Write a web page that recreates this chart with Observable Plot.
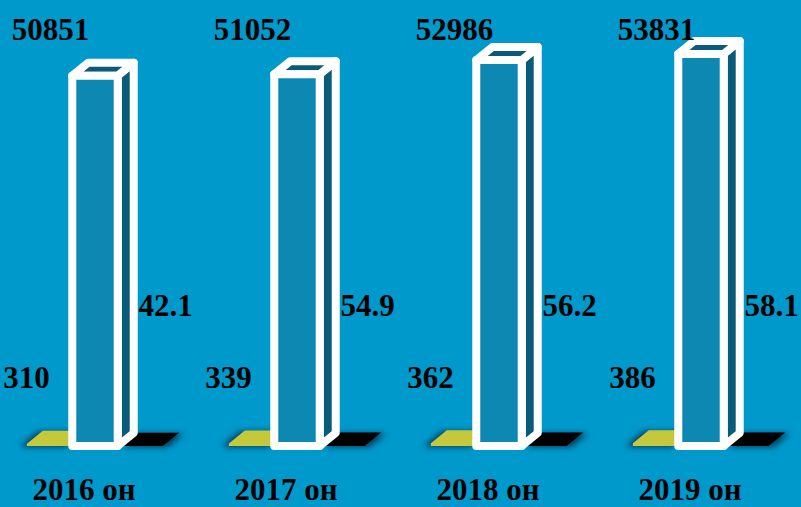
<!DOCTYPE html>
<html>
<head>
<meta charset="utf-8">
<script src="https://cdn.jsdelivr.net/npm/d3@7"></script>
<script src="https://cdn.jsdelivr.net/npm/@observablehq/plot@0.6"></script>
<style>
  html, body { margin: 0; padding: 0; background: #0099cc; overflow: hidden; }
  #chart svg { display: block; }
</style>
</head>
<body>
<div id="chart"></div>
<script>
// ---- data ----
const years = ["2016 он", "2017 он", "2018 он", "2019 он"];
const mainValues = [50851, 51052, 52986, 53831];
const yellowValues = [310, 339, 362, 386];
const blackValues = [42.1, 54.9, 56.2, 58.1];

const rows = years.map((year, i) => ({
  year,
  main: mainValues[i],
  yellow: yellowValues[i],
  black: blackValues[i]
}));

// ---- styles ----
const BG = "#0099cc";
const FRONT = "#0c88b2";
const SIDE = "#0a5b7a";
const YELLOW = "#c6c83c";
const BLACK = "#000000";
const DEPTH_X = 16, DEPTH_Y = -13;

const font = {
  fontFamily: "'Liberation Serif', 'Times New Roman', serif",
  fontWeight: "bold",
  fontSize: 31,
  fill: "#000",
  lineAnchor: "bottom"
};

function pts(a) { return a.map(p => p.join(",")).join(" "); }

// custom 3D column mark using Plot's scales
function bars3d(index, scales) {
  const x = scales.x, y = scales.y;
  const step = x(years[1]) - x(years[0]);
  const w = step * 0.225;
  const g = d3.create("svg:g");
  const y0 = y(0);

  function smallBar(cx, v, color, shadowDx) {
    const x0 = cx - w / 2, x1 = cx + w / 2, yv = y(v);
    g.append("polygon")
      .attr("points", pts([[x0, y0], [x1, y0], [x1, yv], [x1 + DEPTH_X, yv + DEPTH_Y],
                           [x0 + DEPTH_X, yv + DEPTH_Y], [x0, yv]]))
      .attr("fill", color)
      .attr("style", `filter: drop-shadow(${shadowDx}px 1px 3px rgba(0,30,50,0.75))`);
  }

  function mainBar(cx, v) {
    const x0 = cx - w / 2, x1 = cx + w / 2, yv = y(v);
    const common = sel => sel.attr("stroke", "#fff").attr("stroke-width", 8)
      .attr("stroke-linejoin", "round");
    g.append("polygon")
      .attr("points", pts([[x1, y0], [x1 + DEPTH_X, y0 + DEPTH_Y], [x1 + DEPTH_X, yv + DEPTH_Y], [x1, yv]]))
      .attr("fill", SIDE).call(common);
    g.append("polygon")
      .attr("points", pts([[x0, yv], [x1, yv], [x1 + DEPTH_X, yv + DEPTH_Y], [x0 + DEPTH_X, yv + DEPTH_Y]]))
      .attr("fill", SIDE).call(common);
    g.append("rect")
      .attr("x", x0).attr("y", yv).attr("width", x1 - x0).attr("height", y0 - yv)
      .attr("fill", FRONT).call(common);
  }

  rows.forEach(r => {
    const cx = x(r.year) + step / 2;
    smallBar(cx - w, r.yellow, YELLOW, -5);
    smallBar(cx + w, r.black, BLACK, 5);
    mainBar(cx, r.main);
  });
  return g.node();
}

const chart = Plot.plot({
  width: 801,
  height: 507,
  marginTop: 9,
  marginBottom: 61,
  marginLeft: 0,
  marginRight: 0,
  style: { background: BG, overflow: "visible" },
  x: { type: "band", domain: years, range: [-7.25, 802.75], padding: 0, axis: null },
  y: { domain: [0, 60000], axis: null },
  marks: [
    bars3d,
    Plot.text(rows, { x: "year", text: d => String(d.main), frameAnchor: "top", dx: -45, dy: 30, ...font }),
    Plot.text(rows, { x: "year", y: "yellow", text: d => String(d.yellow), dx: -69, dy: -56, ...font }),
    Plot.text(rows, { x: "year", y: "black", text: d => String(d.black), dx: 70, dy: -130, ...font }),
    Plot.text(rows, { x: "year", text: "year", frameAnchor: "bottom", dx: -11.5, dy: 53, ...font })
  ]
});

document.getElementById("chart").appendChild(chart);
</script>
</body>
</html>
